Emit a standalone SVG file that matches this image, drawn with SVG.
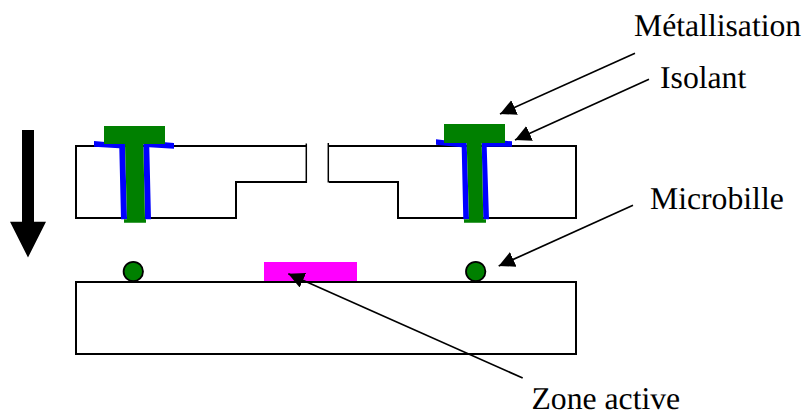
<svg xmlns="http://www.w3.org/2000/svg" width="805" height="412" viewBox="0 0 805 412">
<style>
.line{fill:none;stroke:#000;stroke-width:2}
.thin{fill:none;stroke:#000;stroke-width:1.5}
.metal{fill:#008000}
.ins{fill:#00f}
.ball{fill:#008000;stroke:#000;stroke-width:1.8}
.lead{fill:none;stroke:#000;stroke-width:1.7;marker-end:url(#head)}
text{font-family:"Liberation Serif","Times New Roman",serif;font-size:31.7px;fill:#000;text-rendering:geometricPrecision}
</style>
<defs>
<marker id="head" markerUnits="userSpaceOnUse" markerWidth="18" markerHeight="18" refX="16" refY="8" orient="auto" viewBox="0 0 18 18">
<path d="M0,0 L16,8 L0,16 Z" fill="#000"/>
</marker>
</defs>
<rect width="805" height="412" fill="#fff"/>
<g id="block-left">
<path class="line" d="M306,182 H236 V218 H76 V146 H306"/>
<path class="thin" d="M306.3,143.5 V183"/>
</g>
<g id="block-right">
<path class="line" d="M329,182 H398 V218 H576 V146 H329"/>
<path class="thin" d="M328.3,143 V182.5"/>
</g>
<g id="via-left">
<path class="ins" d="M94,141 L125,143.7 L127,219.3 L121,219.3 L119.3,148.3 L94,146.7 Z"/>
<path class="ins" d="M143.3,144 L165,142.3 L174,143 L174,148.7 L149.3,147.3 L151,219.3 L145,219.3 Z"/>
<path class="metal" d="M104,126 H165 V144 H143.3 L145,219.3 L146,219.3 V222.7 H124 V219.3 L127,219.3 L125,144 H104 Z"/>
</g>
<g id="via-right">
<path class="ins" d="M436,139.3 L466.7,143 L469,219.3 L463.3,219.3 L461.7,147.3 L436,144.7 Z"/>
<path class="ins" d="M481.7,143 L505,140.7 L512,141.3 L512,146.7 L486.7,146.7 L489,219.3 L483.3,219.3 Z"/>
<path class="metal" d="M444,124 H505 V143 H481.7 L483.3,219.3 L486,219.3 V222.7 H464 V219.3 L469,219.3 L466.7,143 H444 Z"/>
</g>
<g id="ball-left"><circle class="ball" cx="133.3" cy="271.5" r="9.7"/></g>
<g id="ball-right"><circle class="ball" cx="475.7" cy="271.5" r="9.7"/></g>
<g id="active-zone"><rect x="264" y="262" width="93" height="20.5" fill="#f0f"/></g>
<g id="substrate"><rect class="line" x="76" y="282" width="500" height="72"/></g>
<g id="motion-arrow"><path d="M22,130 H34 V221.7 H46 L28,257.5 L10,221.7 H22 Z" fill="#000"/></g>
<g id="connectors">
<line class="lead" x1="635" y1="53.3" x2="500" y2="114"/>
<line class="lead" x1="649" y1="79.3" x2="515" y2="140"/>
<line class="lead" x1="633" y1="205.3" x2="498.7" y2="266"/>
<line class="lead" x1="522.7" y1="378" x2="288.3" y2="273.7"/>
</g>
<g id="label-metallisation"><text x="634" y="36">Métallisation</text></g>
<g id="label-isolant"><text x="660" y="88">Isolant</text></g>
<g id="label-microbille"><text x="650" y="209">Microbille</text></g>
<g id="label-zone"><text x="531.5" y="409">Zone active</text></g>
</svg>
